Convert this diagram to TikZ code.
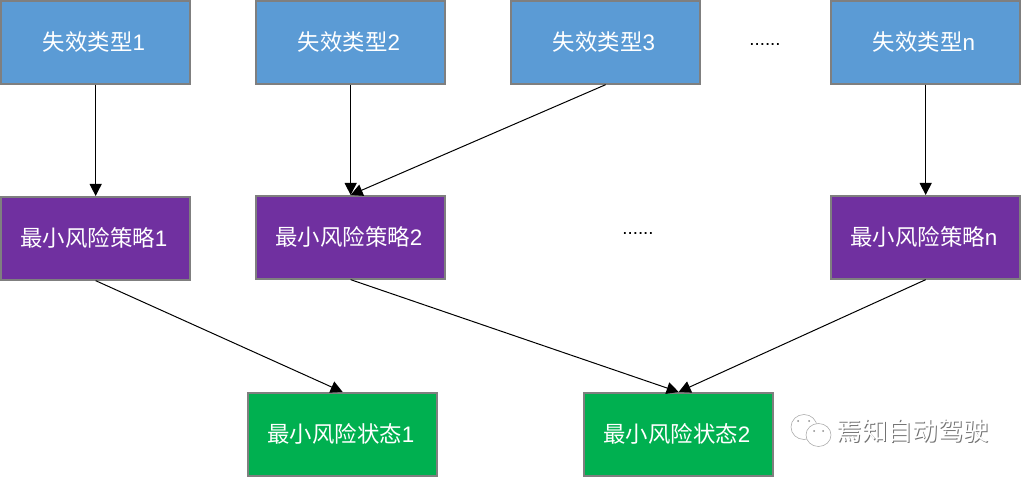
\documentclass[tikz,border=0pt]{standalone}
\usepackage{fontspec}
\setmainfont{Liberation Sans}
\newfontfamily\cjk{Noto Sans CJK SC}[Scale=1.0]
\usetikzlibrary{arrows.meta}
\definecolor{fblue}{HTML}{5B9BD5}
\definecolor{fpurple}{HTML}{7030A0}
\definecolor{fgreen}{HTML}{00B050}
\definecolor{fedge}{HTML}{7F7F7F}
\tikzset{
  x=0.75pt,y=-0.75pt,
  boxbase/.style={draw=fedge,line width=1.5pt,minimum width=142pt,minimum height=62pt,inner sep=0pt,text=white,font=\fontsize{16.8pt}{18pt}\selectfont,anchor=north west},
  bluebox/.style={boxbase,fill=fblue},
  purplebox/.style={boxbase,fill=fpurple},
  greenbox/.style={boxbase,fill=fgreen},
  conn/.style={draw=black,line width=0.75pt,-{Triangle[length=9pt,width=9pt]},shorten >=0pt},
  dots/.style={font=\fontsize{14pt}{16pt}\selectfont,text=black,inner sep=0pt},
  wm/.style={font=\cjk\fontsize{19pt}{21pt}\selectfont,inner sep=0pt},
  wechat/.style={draw=black!35,fill=white,line width=0.4pt}
}
\newcommand{\zh}[2]{\hspace*{-2.5pt}{\cjk #1}#2}
\begin{document}
\begin{tikzpicture}
\useasboundingbox (0,0) rectangle (1021,477);
\fill[white] (0,0) rectangle (1021,477);
\node[bluebox] (a1) at (0,0) {\zh{失效类型}{1}};
\node[bluebox] (a2) at (255,0) {\zh{失效类型}{2}};
\node[bluebox] (a3) at (510,0) {\zh{失效类型}{3}};
\node[bluebox] (an) at (830,0) {\zh{失效类型}{n}};
\node[purplebox] (b1) at (0,196) {\zh{最小风险策略}{1}};
\node[purplebox] (b2) at (255,195) {\zh{最小风险策略}{2}};
\node[purplebox] (bn) at (830,195) {\zh{最小风险策略}{n}};
\node[greenbox] (c1) at (247,392) {\zh{最小风险状态}{1}};
\node[greenbox] (c2) at (583,392) {\zh{最小风险状态}{2}};
\node[dots] (d1) at (765,45) {......};
\node[dots] (d2) at (638,234) {......};
\draw[conn] (a1.south) -- (b1.north);
\draw[conn] (a2.south) -- (b2.north);
\draw[conn] (a3.south) -- (b2.north);
\draw[conn] (an.south) -- (bn.north);
\draw[conn] (b1.south) -- (c1.north);
\draw[conn] (b2.south) -- (c2.north);
\draw[conn] (bn.south) -- (c2.north);
% watermark
\draw[wechat] (804,427) ellipse[x radius=13,y radius=12.5];
\draw[wechat] (818.5,435) ellipse[x radius=12.5,y radius=11.5];
\fill[black!45] (798,421) circle (1) (809,421) circle (1) (814,431) circle (1) (823,431) circle (1);
\node[wm,text=black!55] (wm1) at (913.7,431.7) {焉知自动驾驶};
\node[wm,text=white] (wm2) at (912.7,430.7) {焉知自动驾驶};
\end{tikzpicture}
\end{document}
